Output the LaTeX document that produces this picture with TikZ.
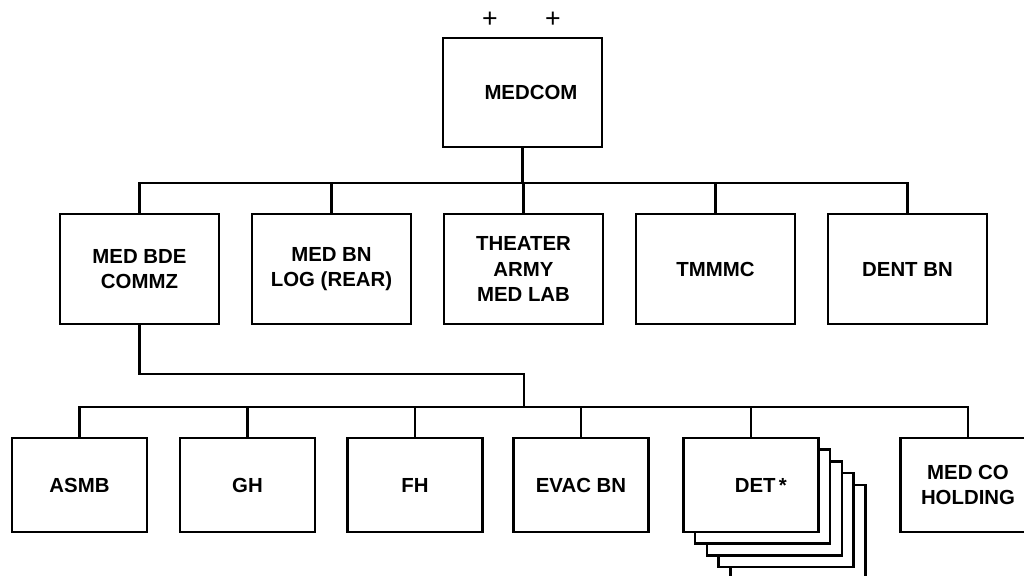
\documentclass[tikz,border=0pt]{standalone}
\usepackage{fontspec}
\setmainfont{Liberation Sans}
\begin{document}
\begin{tikzpicture}[
  x=0.025cm, y=-0.025cm,
  line width=1.8pt,
  every node/.style={inner sep=1pt, font=\bfseries\fontsize{14.5}{18}\selectfont, align=center},
  unitbox/.style={draw, fill=white, minimum width=3.975cm, minimum height=2.75cm},
  subbox/.style={draw, fill=white, minimum width=3.375cm, minimum height=2.35cm},
  rank/.style={font=\fontsize{19}{19}\selectfont}
]
  \useasboundingbox (0,0) rectangle (1024,576);
  \clip (0,0) rectangle (1024,576);

  % command
  \node[rank] (plusl) at (490,20) {+};
  \node[rank] (plusr) at (553,20) {+};
  \node[unitbox, minimum height=2.725cm] (medcom) at (522.5,92.5) {\hspace*{12pt}MEDCOM};

  % second echelon
  \node[unitbox] (bde) at (139.5,269) {MED BDE\\COMMZ};
  \node[unitbox] (bn) at (331.5,269) {MED BN\\LOG (REAR)};
  \node[unitbox] (lab) at (523.5,269) {THEATER\\ARMY\\MED LAB};
  \node[unitbox] (tmmmc) at (715.5,269) {TMMMC};
  \node[unitbox] (dent) at (907.5,269) {DENT BN};

  % third echelon
  \foreach \k in {4,3,2,1}
    \draw[fill=white, shift={(\k*11.7,\k*11.7)}] (683.5,438) rectangle (818.5,532);
  \node[subbox] (asmb) at (79.5,485) {ASMB};
  \node[subbox] (gh) at (247.5,485) {GH};
  \node[subbox] (fh) at (415,485) {FH};
  \node[subbox] (evac) at (581,485) {EVAC BN};
  \node[subbox] (det) at (751,485) {\hspace*{14pt}DET\,*};
  \node[subbox] (medco) at (968,485) {MED CO\\HOLDING};

  \coordinate (bus1) at (0,183);
  \coordinate (drop) at (524,374);
  \coordinate (bus2) at (0,407);

  \draw (medcom.south) -- (medcom.south |- bus1);
  \draw (bde.north) |- (bus1 -| dent.north) -- (dent.north);
  \foreach \n in {bn,lab,tmmmc}
    \draw (\n.north) -- (\n.north |- bus1);

  \draw (bde.south) |- (drop) -- (drop |- bus2);
  \draw (asmb.north) |- (bus2 -| medco.north) -- (medco.north);
  \foreach \n in {gh,fh,evac,det}
    \draw (\n.north) -- (\n.north |- bus2);
\end{tikzpicture}
\end{document}
